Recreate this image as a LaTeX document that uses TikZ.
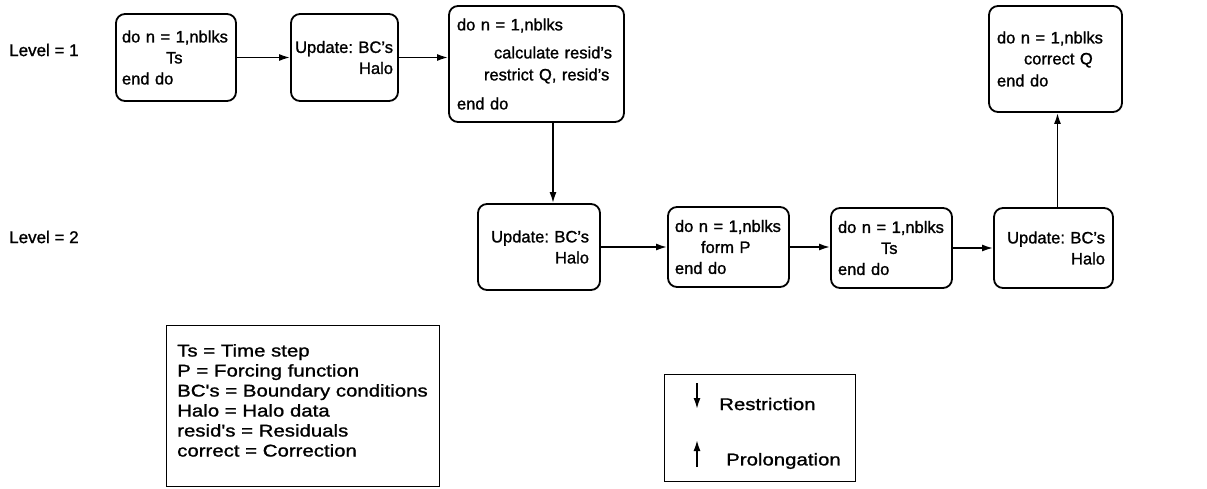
\documentclass[tikz,border=0pt]{standalone}
\usepackage{fontspec}
\setmainfont{Liberation Sans}[FakeBold=1.2]
\newfontfamily\legfont{Liberation Sans}[FakeBold=1.2,FakeStretch=1.2]
\usetikzlibrary{arrows.meta}
\newcommand{\rpad}[1]{\kern#1\mbox{}}
\tikzset{
  flowbox/.style={draw, line width=1.8pt, rounded corners=9pt, inner ysep=0pt, font=\frenchspacing\fontsize{16.5}{21}\selectfont},
  legframe/.style={draw, line width=1.4pt, inner sep=0pt},
  txt/.style={inner sep=0pt, font=\fontsize{17}{20}\selectfont},
  legtxt/.style={inner sep=0pt, font=\legfont\fontsize{17}{20}\selectfont},
  flow/.style={line width=1.7pt, -{Latex[length=11pt,width=7pt]}},
}
\begin{document}
\begin{tikzpicture}[x=1pt,y=-1pt]
\useasboundingbox (0,0) rectangle (1207,488);
% level labels
\node[txt, anchor=west] (lev1) at (9,50) {Level = 1};
\node[txt, anchor=west] (lev2) at (9,237) {Level = 2};
% level 1 boxes
\node[flowbox, minimum width=120, minimum height=87, text width=114, inner xsep=3, align=left] (A) at (176,57.5)
  {\hspace*{3pt}do n = 1,nblks\\\hspace*{47pt}Ts\\\hspace*{3pt}end do};
\node[flowbox, minimum width=107, minimum height=87, text width=105, inner xsep=1, align=right] (B) at (344.5,57.5)
  {\mbox{Update: BC's}\rpad{4pt}\\Halo\rpad{4pt}};
\node[flowbox, minimum width=175, minimum height=116, text width=159, inner xsep=8, align=left] (C) at (536.5,64)
  {do n = 1,nblks\\[7pt]\hspace*{37pt}calculate resid's\\[1pt]\hspace*{27pt}restrict Q, resid's\\[8pt]end do};
\node[flowbox, minimum width=133, minimum height=106, text width=117, inner xsep=8, align=left] (H) at (1055.5,59)
  {do n = 1,nblks\\\hspace*{27pt}correct Q\\[1pt]end do};
% level 2 boxes
\node[flowbox, minimum width=122, minimum height=86, text width=118, inner xsep=2, align=right] (D) at (539,247)
  {\mbox{Update: BC's}\rpad{9pt}\\Halo\rpad{9pt}};
\node[flowbox, minimum width=121, minimum height=80, text width=115, inner xsep=3, align=left] (E) at (728.5,247)
  {\hspace*{4pt}do n = 1,nblks\\\hspace*{30pt}form P\\\hspace*{4pt}end do};
\node[flowbox, minimum width=121, minimum height=80, text width=115, inner xsep=3, align=left] (F) at (891.5,248)
  {\hspace*{4pt}do n = 1,nblks\\\hspace*{47pt}Ts\\\hspace*{4pt}end do};
\node[flowbox, minimum width=119, minimum height=80, text width=115, inner xsep=2, align=right] (G) at (1053.5,248)
  {\mbox{Update: BC's}\rpad{6pt}\\Halo\rpad{6pt}};
% connectors
\draw[flow] (A.east) -- (B.west);
\draw[flow] (B.east) -- (C.west |- B.east);
\draw[flow] (C.south -| D.north) ++(14,0) coordinate (cs) (cs) -- (cs |- D.north);
\draw[flow] (D.east) -- (E.west);
\draw[flow] (E.east) -- (F.west |- E.east);
\draw[flow] (F.east) -- (G.west);
\draw[flow] ([xshift=4pt]G.north) -- ([xshift=4pt]G.north |- H.south);
% legend 1
\node[legframe, anchor=north west, minimum width=273, minimum height=161] (leg1) at (166,325) {};
\node[legtxt, anchor=north west, align=left] (leg1text) at (177,344)
  {Ts = Time step\\P = Forcing function\\BC's = Boundary conditions\\Halo = Halo data\\resid's = Residuals\\correct = Correction};
% legend 2
\node[legframe, anchor=north west, minimum width=191, minimum height=107] (leg2) at (664,374) {};
\coordinate (rtop) at (697,383);
\coordinate (rbot) at (697,409);
\coordinate (pbot) at (697,467);
\coordinate (ptop) at (697,440);
\draw[flow] (rtop) -- (rbot);
\draw[flow] (pbot) -- (ptop);
\node[legtxt, anchor=west] (restr) at (719,404) {Restriction};
\node[legtxt, anchor=west] (prol) at (726,461) {Prolongation};
\end{tikzpicture}
\end{document}
